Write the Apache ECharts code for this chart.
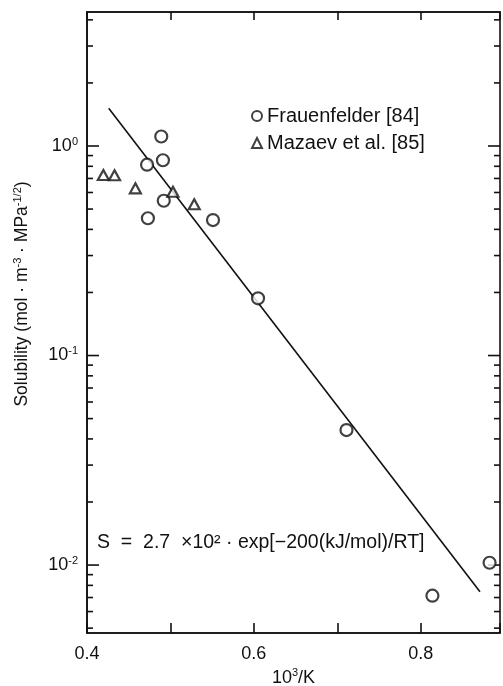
<!DOCTYPE html>
<html>
<head>
    <meta charset="utf-8">
    <title>Solubility</title>
    <script src="https://cdn.jsdelivr.net/npm/echarts@6/dist/echarts.min.js"></script>
    <style>
        html, body { margin: 0; padding: 0; background: #fff; }
    </style>
</head>
<body>
    <div id="main" style="width: 503px;height:686px;"></div>
    <script type="text/javascript">
        // data (x = 10^3/K, y = solubility)
        var frauenfelderX = [0.489, 0.491, 0.472, 0.492, 0.473, 0.551, 0.605, 0.711, 0.814, 0.8825];
        var frauenfelderY = [1.11, 0.855, 0.814, 0.548, 0.452, 0.443, 0.1875, 0.0441, 0.00714, 0.01026];
        var mazaevX = [0.4196, 0.433, 0.458, 0.503, 0.5285];
        var mazaevY = [0.727, 0.725, 0.628, 0.605, 0.527];
        var fitX = [0.426, 0.871];
        var fitY = [1.513, 0.00746];

        var xLabels = ['0.4', '0.6', '0.8'];
        var yDecades = [-3, -2, -1, 0];
        var minorMantissas = [2, 3, 4, 5, 6, 7, 8, 9];

        var xMin = 0.4, xMax = 0.895;
        var yMin = 0.00474, yMax = 4.36;

        function pairs(xs, ys) {
            var out = [];
            for (var i = 0; i < xs.length; i++) out.push([xs[i], ys[i]]);
            return out;
        }

        // tick positions for the log axis (drawn on both sides)
        var yTicks = [];
        yDecades.forEach(function (d) {
            yTicks.push([xMin, Math.pow(10, d), 1]);
            minorMantissas.forEach(function (m) {
                yTicks.push([xMin, m * Math.pow(10, d), 0]);
            });
        });

        var dom = document.getElementById("main");
        var myChart = echarts.init(dom);

        var font = 'Liberation Sans';
        var ink = '#111';
        var supStyle = { fontSize: 11, fontFamily: font, color: ink, verticalAlign: 'top', padding: [0, 0, 9, 0] };

        var option = {
            backgroundColor: '#fff',
            animation: false,
            textStyle: { fontFamily: font, color: ink },
            grid: {
                left: 87, right: 3, top: 12, bottom: 53,
                outerBoundsMode: 'none',
                containLabel: false,
                show: true, borderColor: ink, borderWidth: 1.6
            },
            legend: {
                orient: 'vertical',
                left: 251, top: 106,
                padding: 0,
                itemWidth: 10, itemHeight: 10, itemGap: 7,
                data: ['Frauenfelder [84]', 'Mazaev et al. [85]'],
                textStyle: { fontFamily: font, fontSize: 20, color: ink }
            },
            xAxis: [{
                type: 'value',
                min: xMin, max: xMax, interval: 0.1,
                name: '10{s|3}/K',
                nameLocation: 'middle', nameGap: 33,
                nameTextStyle: {
                    fontFamily: font, fontSize: 18, color: ink,
                    rich: { s: supStyle }
                },
                axisLine: { lineStyle: { color: ink, width: 1.6 } },
                axisTick: { inside: true, length: 10, lineStyle: { color: ink, width: 1.6 } },
                splitLine: { show: false },
                axisLabel: {
                    margin: 12, fontSize: 18, color: ink, fontFamily: font,
                    showMinLabel: true, showMaxLabel: true,
                    formatter: function (v) {
                        var s = v.toFixed(1);
                        return (xLabels.indexOf(s) >= 0 && Math.abs(v - parseFloat(s)) < 1e-6) ? s : '';
                    }
                }
            }, {
                type: 'value', position: 'top',
                min: xMin, max: xMax, interval: 0.1,
                axisLine: { lineStyle: { color: ink, width: 1.6 } },
                axisTick: { inside: true, length: 8, lineStyle: { color: ink, width: 1.6 } },
                axisLabel: { show: false },
                splitLine: { show: false }
            }],
            yAxis: {
                type: 'log',
                min: yMin, max: yMax,
                axisLine: { lineStyle: { color: ink, width: 1.6 } },
                axisTick: { show: false },
                splitLine: { show: false },
                axisLabel: {
                    margin: 9, color: ink,
                    formatter: function (v) {
                        var e = Math.log10(v);
                        var r = Math.round(e);
                        if (Math.abs(e - r) > 1e-6) return '';
                        return '{b|10}{s|' + r + '}';
                    },
                    rich: {
                        b: { fontSize: 18, fontFamily: font, color: ink },
                        s: supStyle
                    }
                }
            },
            graphic: [{
                type: 'text',
                x: 22, y: 294,
                rotation: Math.PI / 2,
                style: {
                    text: 'Solubility (mol · m{s|-3} · MPa{s|-1/2})',
                    fontFamily: font, fontSize: 17.5, fill: ink,
                    align: 'center', verticalAlign: 'middle',
                    rich: { s: { fontSize: 11, fontFamily: font, fill: ink, verticalAlign: 'top', padding: [0, 0, 9, 0] } }
                }
            }, {
                type: 'text',
                left: 97, top: 533,
                style: {
                    text: 'S  =  2.7  ×10² · exp[−200(kJ/mol)/RT]',
                    fontFamily: font, fontSize: 19.5, fill: ink
                }
            }],
            series: [{
                name: 'fit',
                type: 'line',
                data: pairs(fitX, fitY),
                showSymbol: false,
                symbol: 'none',
                lineStyle: { color: ink, width: 1.6 },
                z: 2
            }, {
                name: 'Frauenfelder [84]',
                type: 'scatter',
                data: pairs(frauenfelderX, frauenfelderY),
                symbol: 'circle',
                symbolSize: 12,
                itemStyle: { color: '#fff', borderColor: ink, borderWidth: 2.2 },
                z: 5
            }, {
                name: 'Mazaev et al. [85]',
                type: 'scatter',
                data: pairs(mazaevX, mazaevY),
                symbol: 'triangle',
                symbolSize: [11, 10],
                itemStyle: { color: '#fff', borderColor: ink, borderWidth: 2.2 },
                z: 5
            }, {
                name: 'yticks',
                type: 'custom',
                silent: true,
                data: yTicks,
                encode: { x: 0, y: 1 },
                renderItem: function (params, api) {
                    var v = api.value(1);
                    if (v < yMin || v > yMax) return null;
                    var len = api.value(2) ? 12 : 6;
                    var pL = api.coord([xMin, v]);
                    var pR = api.coord([xMax, v]);
                    var st = { stroke: ink, lineWidth: 1.6 };
                    return {
                        type: 'group',
                        children: [
                            { type: 'line', shape: { x1: pL[0], y1: pL[1], x2: pL[0] + len, y2: pL[1] }, style: st },
                            { type: 'line', shape: { x1: pR[0] - len, y1: pR[1], x2: pR[0], y2: pR[1] }, style: st }
                        ]
                    };
                },
                z: 3
            }]
        };

        myChart.setOption(option);
    </script>
</body>
</html>
